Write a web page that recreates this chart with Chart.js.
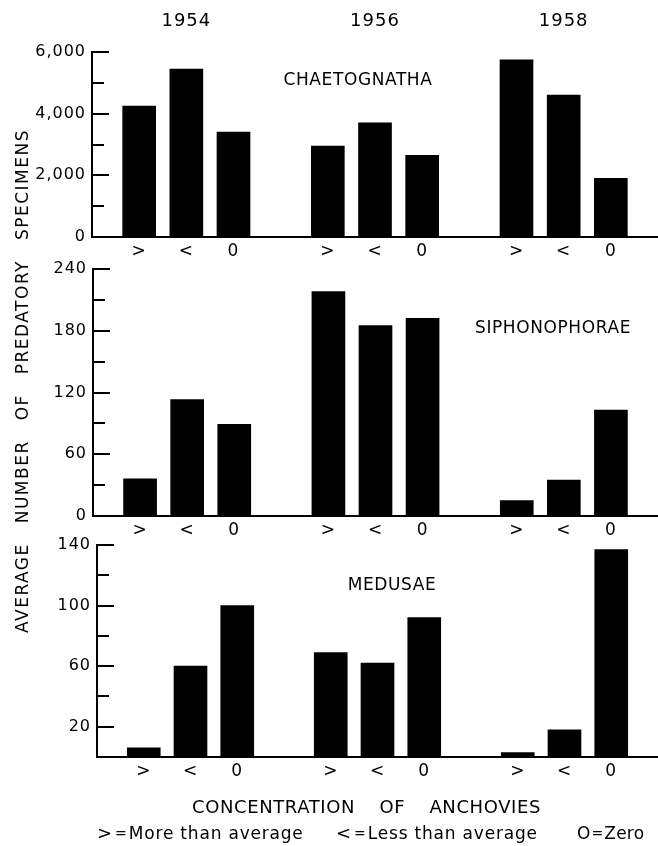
<!DOCTYPE html>
<html>
<head>
<meta charset="utf-8">
<script src="https://cdn.jsdelivr.net/npm/chart.js@4.4.1/dist/chart.umd.min.js"></script>
<style>
  html, body { margin: 0; padding: 0; background: #fff; }
  #figure { position: relative; width: 658px; height: 846px; background: #fff; overflow: hidden;
    font-family: 'DejaVu Sans', sans-serif; color: #000; }
  #figure canvas { position: absolute; left: 0; }
  .panel-name { position: absolute; transform: translate(-50%, -50%); white-space: nowrap;
    font-size: 17px; letter-spacing: 0.6px; line-height: 20px; }
  #yTitle { position: absolute; left: 22px; top: 381px; width: 504px; height: 20px; line-height: 20px;
    display: flex; justify-content: space-between; white-space: nowrap;
    transform: translate(-50%, -50%) rotate(-90deg); font-size: 17px; letter-spacing: 1.5px; }
  #xTitle { position: absolute; left: 192px; top: 797px; width: 349px; line-height: 20px;
    display: flex; justify-content: space-between; white-space: nowrap; font-size: 18px; letter-spacing: 0.6px; }
  .key { position: absolute; top: 823px; line-height: 20px; white-space: nowrap; font-size: 17px; letter-spacing: 0.8px; }
  .key .sym { font-size: 18px; letter-spacing: 0; }
  .key .eq { font-size: 14px; letter-spacing: 0; margin: 0 2px 0 3px; vertical-align: 1px; }
</style>
</head>
<body>
<div id="figure">
  <canvas id="chaetognathaChart" width="658" height="262" style="top:0px"></canvas>
  <canvas id="siphonophoraeChart" width="658" height="290" style="top:250px"></canvas>
  <canvas id="medusaeChart" width="658" height="270" style="top:525px"></canvas>

  <div class="panel-name" style="left:358px; top:79px">CHAETOGNATHA</div>
  <div class="panel-name" style="left:553px; top:327px">SIPHONOPHORAE</div>
  <div class="panel-name" style="left:392px; top:584px">MEDUSAE</div>

  <div id="yTitle"><span>AVERAGE</span><span>NUMBER</span><span>OF</span><span>PREDATORY</span><span>SPECIMENS</span></div>
  <div id="xTitle"><span>CONCENTRATION</span><span>OF</span><span>ANCHOVIES</span></div>
  <div class="key" style="left:97px"><span class="sym">&gt;</span><span class="eq">=</span>More than average</div>
  <div class="key" style="left:336px"><span class="sym">&lt;</span><span class="eq">=</span>Less than average</div>
  <div class="key" style="left:577px; letter-spacing:0.2px">O<span class="eq" style="margin:0 1px">=</span>Zero</div>
</div>

<script>
const YEARS = ['1954', '1956', '1958'];
const CONCENTRATION = ['>', '<', '0'];

// order: 1954 (>, <, 0), 1956 (>, <, 0), 1958 (>, <, 0)
const CHAETOGNATHA = [4250, 5450, 3400, 2950, 3700, 2650, 5750, 4600, 1900];
const SIPHONOPHORAE = [36, 113, 89, 218, 185, 192, 15, 35, 103];
const MEDUSAE = [6, 60, 100, 69, 62, 92, 3, 18, 137];

const CHAETOGNATHA_TICKS = [0, 2000, 4000, 6000];
const SIPHONOPHORAE_TICKS = [0, 60, 120, 180, 240];
const MEDUSAE_TICKS = [20, 60, 100, 140];

Chart.defaults.font.family = "'DejaVu Sans', sans-serif";
Chart.defaults.color = '#000';

// one empty slot before each year group and one at the end
const AXIS_LABELS = [];
const YEAR_LABELS = [];
YEARS.forEach((year) => {
  AXIS_LABELS.push('');
  YEAR_LABELS.push('');
  CONCENTRATION.forEach((c, i) => {
    AXIS_LABELS.push(c);
    YEAR_LABELS.push(i === 1 ? year : '');
  });
});
AXIS_LABELS.push('');
YEAR_LABELS.push('');

const spread = (values) => {
  const out = [];
  let k = 0;
  AXIS_LABELS.forEach((label) => {
    out.push(label === '' ? null : values[k++]);
  });
  return out;
};

// tick marks point into the plot, long ones where there is a label
const inwardTicks = {
  id: 'inwardTicks',
  afterDraw(chart) {
    const y = chart.scales.y;
    const ctx = chart.ctx;
    const left = chart.chartArea.left;
    ctx.save();
    ctx.strokeStyle = '#000';
    ctx.lineWidth = 2;
    y.ticks.forEach((t) => {
      if (t.value === 0) return;
      const py = Math.round(y.getPixelForValue(t.value));
      const len = t.label !== '' ? 17 : 12;
      ctx.beginPath();
      ctx.moveTo(left - 1, py);
      ctx.lineTo(left + len, py);
      ctx.stroke();
    });
    ctx.restore();
  },
};

const spacing = {
  id: 'spacing',
  beforeDraw(chart) {
    chart.ctx.letterSpacing = '1px';
  },
};

// keep the plot running right up to the canvas edges
const fitX = (h) => (s) => {
  s.height = h;
  s.paddingLeft = 0;
  s.paddingRight = 0;
};

const panelConfig = (values, o) => {
  const scales = {
    x: {
      offset: false,
      grid: { display: false, drawTicks: false },
      border: { display: true, color: '#000', width: 2 },
      ticks: { autoSkip: false, maxRotation: 0, padding: 4, font: { size: 17 } },
      afterFit: fitX(o.xHeight),
    },
    y: {
      min: 0,
      max: o.max,
      grid: { display: false, drawTicks: false },
      border: { display: true, color: '#000', width: 2 },
      ticks: {
        stepSize: o.step,
        padding: 6,
        font: { size: 16 },
        callback: (v) => (o.labels.includes(v) ? v.toLocaleString('en-US') : ''),
      },
      afterFit: (s) => { s.width = o.left; },
    },
  };
  if (o.years) {
    scales.x2 = {
      type: 'category',
      position: 'top',
      labels: YEAR_LABELS,
      offset: false,
      grid: { display: false, drawTicks: false },
      border: { display: false },
      ticks: { autoSkip: false, maxRotation: 0, padding: 20, font: { size: 18 } },
      afterFit: fitX(52),
    };
  }
  return {
    type: 'bar',
    data: {
      labels: AXIS_LABELS,
      datasets: [
        {
          data: spread(values),
          backgroundColor: '#000',
          borderWidth: 0,
          barThickness: 33,
        },
      ],
    },
    options: {
      responsive: false,
      animation: false,
      layout: { padding: { top: o.padTop, right: 0, bottom: 0, left: 0 } },
      plugins: {
        legend: { display: false },
        tooltip: { enabled: false },
      },
      scales,
    },
    plugins: [inwardTicks, spacing],
  };
};

new Chart(
  document.querySelector('#chaetognathaChart'),
  panelConfig(CHAETOGNATHA, {
    max: 6000, step: 1000, labels: CHAETOGNATHA_TICKS,
    left: 92, padTop: 0, xHeight: 25, years: true,
  })
);

new Chart(
  document.querySelector('#siphonophoraeChart'),
  panelConfig(SIPHONOPHORAE, {
    max: 240, step: 30, labels: SIPHONOPHORAE_TICKS,
    left: 93, padTop: 19, xHeight: 24,
  })
);

new Chart(
  document.querySelector('#medusaeChart'),
  panelConfig(MEDUSAE, {
    max: 140, step: 20, labels: MEDUSAE_TICKS,
    left: 97, padTop: 20, xHeight: 38,
  })
);
</script>
</body>
</html>
